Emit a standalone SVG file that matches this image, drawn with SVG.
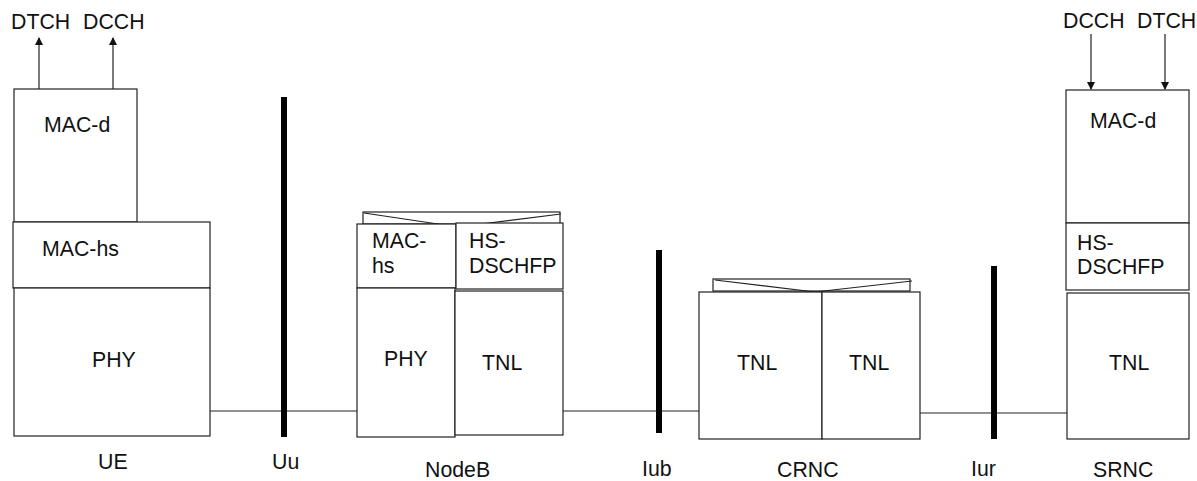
<svg xmlns="http://www.w3.org/2000/svg" width="1197" height="481" viewBox="0 0 1197 481">
<style>
.box{fill:#fff;stroke:#222;stroke-width:1.2}
.ln{fill:none;stroke:#222;stroke-width:1.2}
.bar{stroke:#000;stroke-width:6}
text{font-family:"Liberation Sans",Arial,sans-serif;font-size:21.3px;fill:#111}
</style>
<defs>
<marker id="ah" markerWidth="8" markerHeight="8" refX="7" refY="4" orient="auto" markerUnits="userSpaceOnUse">
<path d="M0,0 L8,4 L0,8 z" fill="#111"/>
</marker>
</defs>
<rect width="1197" height="481" fill="#fff"/>
<g id="connectors">
<line class="ln" x1="39" y1="89" x2="39" y2="38" marker-end="url(#ah)"/>
<line class="ln" x1="113" y1="89" x2="113" y2="38" marker-end="url(#ah)"/>
<line class="ln" x1="1091" y1="34" x2="1091" y2="89" marker-end="url(#ah)"/>
<line class="ln" x1="1165" y1="34" x2="1165" y2="89" marker-end="url(#ah)"/>
<line class="ln" x1="210" y1="411" x2="357" y2="411"/>
<line class="ln" x1="563" y1="411" x2="699" y2="411"/>
<line class="ln" x1="920" y1="413" x2="1067" y2="413"/>
</g>
<g id="interfaces">
<line class="bar" x1="284" y1="97" x2="284" y2="437"/>
<line class="bar" x1="659" y1="250" x2="659" y2="433"/>
<line class="bar" x1="994" y1="266" x2="994" y2="439"/>
<text x="272" y="469">Uu</text>
<text x="642" y="476">Iub</text>
<text x="971" y="476">Iur</text>
</g>
<g id="UE">
<rect class="box" x="14" y="89" width="123" height="133"/>
<rect class="box" x="13" y="222" width="197" height="66"/>
<rect class="box" x="14" y="288" width="196" height="148"/>
<text x="11" y="29">DTCH</text>
<text x="83" y="29">DCCH</text>
<text x="44" y="132">MAC-d</text>
<text x="42" y="256">MAC-hs</text>
<text x="92" y="367">PHY</text>
<text x="98" y="469">UE</text>
</g>
<g id="NodeB">
<rect class="box" x="363" y="212" width="197" height="12"/>
<polyline class="ln" points="364,213 458,227 561,214"/>
<rect class="box" x="357" y="224" width="99" height="64"/>
<rect class="box" x="456" y="223" width="107" height="66"/>
<rect class="box" x="357" y="288" width="98" height="149"/>
<rect class="box" x="455" y="291" width="108" height="144"/>
<text x="372" y="248">MAC-</text>
<text x="372" y="273">hs</text>
<text x="469" y="248">HS-</text>
<text x="469" y="273">DSCHFP</text>
<text x="384" y="366">PHY</text>
<text x="482" y="370">TNL</text>
<text x="425" y="477">NodeB</text>
</g>
<g id="CRNC">
<rect class="box" x="713" y="279" width="197" height="12"/>
<polyline class="ln" points="715,280 815,292 912,281"/>
<rect class="box" x="699" y="292" width="123" height="147"/>
<rect class="box" x="822" y="292" width="98" height="147"/>
<text x="737" y="370">TNL</text>
<text x="849" y="370">TNL</text>
<text x="777" y="477">CRNC</text>
</g>
<g id="SRNC">
<rect class="box" x="1066" y="90" width="123" height="133"/>
<rect class="box" x="1066" y="223" width="123" height="67"/>
<rect class="box" x="1067" y="293" width="122" height="146"/>
<text x="1063" y="28">DCCH</text>
<text x="1137" y="28">DTCH</text>
<text x="1090" y="128">MAC-d</text>
<text x="1077" y="250">HS-</text>
<text x="1077" y="274">DSCHFP</text>
<text x="1109" y="370">TNL</text>
<text x="1093" y="477">SRNC</text>
</g>
</svg>
